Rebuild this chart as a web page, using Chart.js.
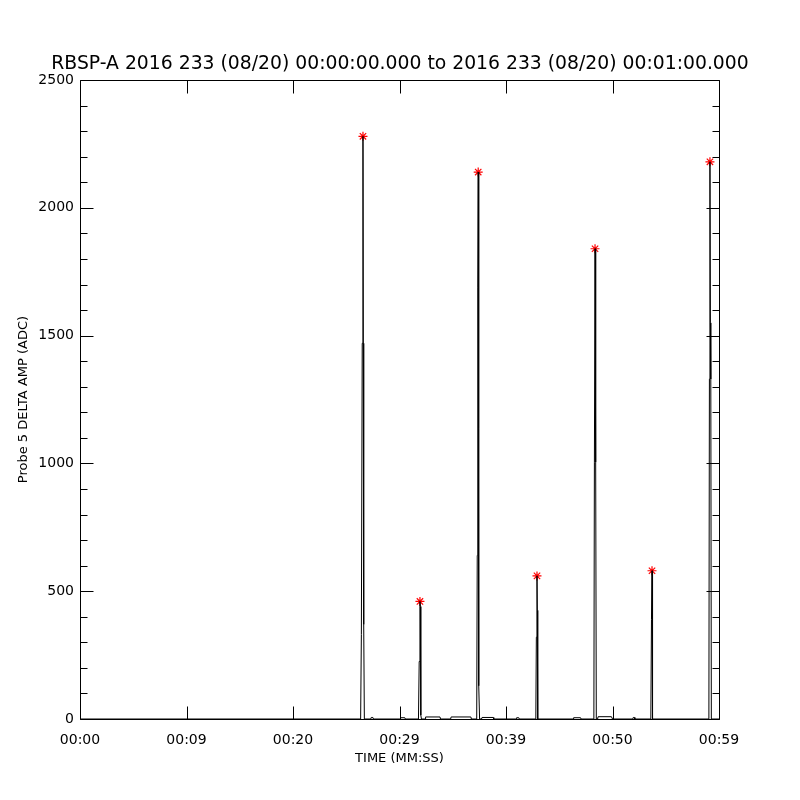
<!DOCTYPE html>
<html lang="en">
<head>
    <meta charset="UTF-8">
    <title>RBSP-A Probe 5 Delta Amp</title>
    <script src="https://cdn.jsdelivr.net/npm/chart.js"></script>
    <style>
        body { margin: 0; background: white; }
        canvas { display: block; }
    </style>
</head>
<body>
    <canvas id="ampChart" width="800" height="800"></canvas>

    <script>
        // time in seconds after 00:00:00, amplitude in ADC counts
        const timeSec = [
            0, 26.35, 26.42, 26.50, 26.57, 26.60, 26.64, 26.70,
            27.30, 27.35, 27.50, 27.55,
            30.05, 30.10, 30.50, 30.55,
            31.78, 31.85, 31.92, 31.96, 32.00, 32.06,
            32.40, 32.45, 33.80, 33.85,
            34.80, 34.85, 36.70, 36.75,
            37.25, 37.30, 37.35, 37.39, 37.42, 37.46, 37.52,
            37.70, 37.75, 38.80, 38.85,
            40.95, 41.00, 41.20, 41.25,
            42.80, 42.85, 42.91, 42.94, 42.98,
            46.30, 46.35, 47.00, 47.05,
            48.25, 48.30, 48.36, 48.40, 48.44, 48.48,
            48.60, 48.65, 49.90, 50.00,
            51.90, 51.95, 52.05, 52.10,
            53.60, 53.66, 53.71, 53.74, 53.78,
            59.05, 59.10, 59.15, 59.19, 59.23, 59.28, 60
        ];
        const ampAdc = [
            0, 0, 330, 1470, 2280, 1470, 370, 0,
            0, 6, 6, 0,
            0, 5, 5, 0,
            0, 225, 460, 440, 15, 0,
            0, 8, 8, 0,
            0, 8, 8, 0,
            0, 640, 1690, 2140, 1690, 130, 0,
            0, 6, 6, 0,
            0, 5, 5, 0,
            0, 320, 560, 425, 0,
            0, 5, 5, 0,
            0, 1005, 1840, 1715, 1005, 0,
            0, 9, 9, 0,
            0, 6, 6, 0,
            0, 390, 580, 400, 0,
            0, 1330, 2180, 1550, 1330, 0, 0
        ];

        // red asterisks on each burst maximum
        const peakTimes = [26.57, 31.92, 37.39, 42.91, 48.36, 53.71, 59.15];
        const peakValues = [2280, 460, 2140, 560, 1840, 580, 2180];

        const xTickValues = [0, 10, 20, 30, 40, 50, 60];
        const xTickLabels = ['00:00', '00:09', '00:20', '00:29', '00:39', '00:50', '00:59'];
        const yMajorTicks = [0, 500, 1000, 1500, 2000, 2500];
        const yMinorTicks = [100, 200, 300, 400, 600, 700, 800, 900, 1100, 1200, 1300, 1400,
                             1600, 1700, 1800, 1900, 2100, 2200, 2300, 2400];

        // IDL style frame: closed box with ticks pointing inward
        const idlFrame = {
            id: 'idlFrame',
            afterDraw(chart) {
                const ctx = chart.ctx;
                const a = chart.chartArea;
                const xs = chart.scales.x;
                const ys = chart.scales.y;
                const L = Math.round(a.left) + 0.5, R = Math.round(a.right) + 0.5;
                const T = Math.round(a.top) + 0.5, B = Math.round(a.bottom) + 0.5;
                ctx.save();
                ctx.strokeStyle = '#000';
                ctx.lineWidth = 1;
                ctx.beginPath();
                ctx.rect(L, T, R - L, B - T);
                xTickValues.forEach(v => {
                    const px = Math.round(xs.getPixelForValue(v)) + 0.5;
                    ctx.moveTo(px, B); ctx.lineTo(px, B - 13);
                    ctx.moveTo(px, T); ctx.lineTo(px, T + 13);
                });
                yMajorTicks.forEach(v => {
                    const py = Math.round(ys.getPixelForValue(v)) + 0.5;
                    ctx.moveTo(L, py); ctx.lineTo(L + 13, py);
                    ctx.moveTo(R, py); ctx.lineTo(R - 13, py);
                });
                yMinorTicks.forEach(v => {
                    const py = Math.round(ys.getPixelForValue(v)) + 0.5;
                    ctx.moveTo(L, py); ctx.lineTo(L + 7, py);
                    ctx.moveTo(R, py); ctx.lineTo(R - 7, py);
                });
                ctx.stroke();
                ctx.restore();
            }
        };

        const ctx = document.getElementById('ampChart').getContext('2d');
        new Chart(ctx, {
            type: 'scatter',
            data: {
                datasets: [{
                    data: timeSec.map((t, i) => ({ x: t, y: ampAdc[i] })),
                    showLine: true,
                    borderColor: '#000',
                    borderWidth: 1,
                    pointRadius: 0,
                    tension: 0
                }, {
                    data: peakTimes.map((t, i) => ({ x: t, y: peakValues[i] })),
                    showLine: false,
                    pointStyle: 'star',
                    pointRadius: 4.5,
                    borderColor: '#ff0000',
                    backgroundColor: '#ff0000',
                    borderWidth: 1.2
                }]
            },
            options: {
                responsive: false,
                animation: false,
                layout: { padding: 0 },
                plugins: {
                    legend: { display: false },
                    tooltip: { enabled: false },
                    title: {
                        display: true,
                        text: 'RBSP-A 2016 233 (08/20) 00:00:00.000 to 2016 233 (08/20) 00:01:00.000',
                        color: '#000',
                        font: { family: 'DejaVu Sans', size: 18.8, weight: 'normal' },
                        padding: { top: 53, bottom: 4.5 }
                    }
                },
                scales: {
                    x: {
                        type: 'linear',
                        min: 0,
                        max: 60,
                        afterFit: scale => { scale.height = 81; },
                        afterBuildTicks: scale => { scale.ticks = xTickValues.map(v => ({ value: v })); },
                        grid: { display: false, drawTicks: false },
                        border: { display: false },
                        ticks: {
                            autoSkip: false,
                            maxRotation: 0,
                            padding: 13,
                            color: '#000',
                            font: { family: 'DejaVu Sans', size: 14 },
                            callback: v => xTickLabels[xTickValues.indexOf(v)]
                        },
                        title: {
                            display: true,
                            text: 'TIME (MM:SS)',
                            color: '#000',
                            font: { family: 'DejaVu Sans', size: 13 },
                            padding: { top: 0, bottom: 34 }
                        }
                    },
                    y: {
                        min: 0,
                        max: 2500,
                        afterFit: scale => { scale.width = 80; },
                        afterBuildTicks: scale => { scale.ticks = yMajorTicks.map(v => ({ value: v })); },
                        grid: { display: false, drawTicks: false },
                        border: { display: false },
                        ticks: {
                            padding: 6,
                            color: '#000',
                            font: { family: 'DejaVu Sans', size: 14 },
                            callback: v => String(v)
                        },
                        title: {
                            display: true,
                            text: 'Probe 5 DELTA AMP (ADC)',
                            color: '#000',
                            font: { family: 'DejaVu Sans', size: 13 },
                            padding: { top: 16, bottom: 0 }
                        }
                    },
                    // empty right margin so the title centres on the page
                    yRight: {
                        position: 'right',
                        min: 0,
                        max: 2500,
                        afterFit: scale => { scale.width = 81; },
                        grid: { display: false, drawTicks: false },
                        border: { display: false },
                        ticks: { display: false }
                    }
                }
            },
            plugins: [idlFrame]
        });
    </script>
</body>
</html>
